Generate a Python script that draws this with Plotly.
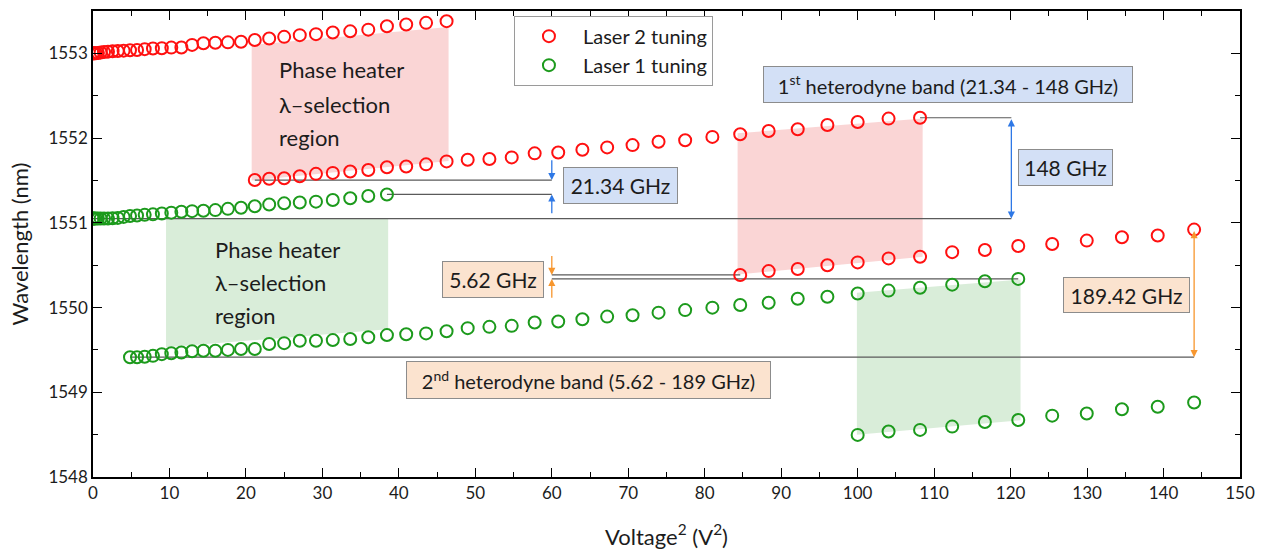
import plotly.graph_objects as go

# ---------------- data (Voltage^2 in V^2, wavelength in nm) ----------------
laser2_a_v2 = [0, 0.04, 0.16, 0.36, 0.64, 1.0, 1.44, 1.96, 2.56, 3.24, 4.0, 4.84, 5.76, 6.76, 7.84,
               9.0, 10.24, 11.56, 12.96, 14.44, 16.0, 17.64, 19.36, 21.16, 23.04, 25.0, 27.04,
               29.16, 31.36, 33.64, 36.0, 38.44, 40.96, 43.56, 46.24]
laser2_a_wl = [1553.00, 1553.00, 1553.00, 1553.00, 1553.005, 1553.01, 1553.015, 1553.02, 1553.025,
               1553.028, 1553.032, 1553.036, 1553.04, 1553.05, 1553.057, 1553.06, 1553.068, 1553.07,
               1553.10, 1553.12, 1553.125, 1553.13, 1553.137, 1553.157, 1553.176, 1553.195, 1553.215,
               1553.227, 1553.246, 1553.26, 1553.28, 1553.32, 1553.34, 1553.36, 1553.38]

laser2_b_v2 = [21.16, 23.04, 25.0, 27.04, 29.16, 31.36, 33.64, 36.0, 38.44, 40.96, 43.56, 46.24,
               49.0, 51.84, 54.76, 57.76, 60.84, 64.0, 67.24, 70.56, 73.96, 77.44, 81.0, 84.64,
               88.36, 92.16, 96.04, 100.0, 104.04, 108.16]
laser2_b_wl = [1551.505, 1551.52, 1551.526, 1551.55, 1551.578, 1551.589, 1551.605, 1551.624, 1551.655,
               1551.665, 1551.69, 1551.725, 1551.745, 1551.753, 1551.772, 1551.82, 1551.83, 1551.862,
               1551.89, 1551.917, 1551.956, 1551.975, 1552.014, 1552.045, 1552.084, 1552.104,
               1552.154, 1552.19, 1552.23, 1552.24]

laser2_c_v2 = [84.64, 88.36, 92.16, 96.04, 100.0, 104.04, 108.16, 112.36, 116.64, 121.0, 125.44,
               129.96, 134.56, 139.24, 144.0]
laser2_c_wl = [1550.385, 1550.43, 1550.455, 1550.50, 1550.533, 1550.58, 1550.60, 1550.654, 1550.68,
               1550.727, 1550.75, 1550.79, 1550.83, 1550.85, 1550.92]

laser1_a_v2 = [0, 0.04, 0.16, 0.36, 0.64, 1.0, 1.44, 1.96, 2.56, 3.24, 4.0, 4.84, 5.76, 6.76, 7.84,
               9.0, 10.24, 11.56, 12.96, 14.44, 16.0, 17.64, 19.36, 21.16, 23.04, 25.0, 27.04,
               29.16, 31.36, 33.64, 36.0, 38.44]
laser1_a_wl = [1551.05, 1551.05, 1551.05, 1551.05, 1551.05, 1551.05, 1551.05, 1551.05, 1551.054,
               1551.058, 1551.07, 1551.08, 1551.086, 1551.094, 1551.10, 1551.11, 1551.12, 1551.13,
               1551.138, 1551.142, 1551.15, 1551.165, 1551.177, 1551.196, 1551.216, 1551.23,
               1551.24, 1551.25, 1551.27, 1551.29, 1551.317, 1551.335]

laser1_b_v2 = [4.84, 5.76, 6.76, 7.84, 9.0, 10.24, 11.56, 12.96, 14.44, 16.0, 17.64, 19.36, 21.16,
               23.04, 25.0, 27.04, 29.16, 31.36, 33.64, 36.0, 38.44, 40.96, 43.56, 46.24, 49.0,
               51.84, 54.76, 57.76, 60.84, 64.0, 67.24, 70.56, 73.96, 77.44, 81.0, 84.64, 88.36,
               92.16, 96.04, 100.0, 104.04, 108.16, 112.36, 116.64, 121.0]
laser1_b_wl = [1549.414, 1549.414, 1549.42, 1549.43, 1549.45, 1549.46, 1549.47, 1549.484, 1549.49,
               1549.49, 1549.50, 1549.51, 1549.51, 1549.57, 1549.58, 1549.608, 1549.608, 1549.616,
               1549.628, 1549.65, 1549.675, 1549.685, 1549.695, 1549.72, 1549.757, 1549.772,
               1549.784, 1549.823, 1549.835, 1549.862, 1549.893, 1549.909, 1549.94, 1549.97,
               1549.999, 1550.03, 1550.057, 1550.104, 1550.127, 1550.166, 1550.20, 1550.233,
               1550.27, 1550.31, 1550.338]

laser1_c_v2 = [100.0, 104.04, 108.16, 112.36, 116.64, 121.0, 125.44, 129.96, 134.56, 139.24, 144.0]
laser1_c_wl = [1548.497, 1548.537, 1548.556, 1548.595, 1548.65, 1548.673, 1548.724, 1548.75,
               1548.80, 1548.83, 1548.88]

series_names = ["Laser 2 tuning", "Laser 1 tuning"]
x_ticks = [0, 10, 20, 30, 40, 50, 60, 70, 80, 90, 100, 110, 120, 130, 140, 150]
y_ticks = [1548, 1549, 1550, 1551, 1552, 1553]

# ---------------- styles ----------------
FONT = "Lato"
RED = "#ff1010"
GREEN = "#1c9a1c"
PINK_FILL = "rgba(247,190,190,0.65)"
GREEN_FILL = "rgba(196,228,196,0.65)"
BLUE_BOX = "#d3e0f6"
ORANGE_BOX = "#fbe3cf"
BOX_BORDER = "#8c8c8c"
GREY_LINE = "#5a5a5a"
BLUE_ARR = "#2e78e6"
ORANGE_ARR = "#f7962e"
TXT = "#1c1c1c"

fig = go.Figure()

marker_kw = dict(symbol="circle-open", size=12)
for i, (xs, ys) in enumerate([(laser2_a_v2, laser2_a_wl), (laser2_b_v2, laser2_b_wl),
                              (laser2_c_v2, laser2_c_wl)]):
    fig.add_trace(go.Scatter(x=xs, y=ys, mode="markers", name=series_names[0],
                             legendgroup="l2", showlegend=(i == 0),
                             marker=dict(color=RED, line=dict(width=2, color=RED), **marker_kw)))
for i, (xs, ys) in enumerate([(laser1_a_v2, laser1_a_wl), (laser1_b_v2, laser1_b_wl),
                              (laser1_c_v2, laser1_c_wl)]):
    fig.add_trace(go.Scatter(x=xs, y=ys, mode="markers", name=series_names[1],
                             legendgroup="l1", showlegend=(i == 0),
                             marker=dict(color=GREEN, line=dict(width=2, color=GREEN), **marker_kw)))

# ---------------- shaded selection regions (data coordinates) ----------------
regions = [
    # x0, x1, top-left, top-right, bottom-right, bottom-left, colour
    (20.75, 46.5, 1553.098, 1553.31, 1551.73, 1551.50, PINK_FILL),
    (9.55, 38.6, 1551.05, 1551.05, 1549.745, 1549.53, GREEN_FILL),
    (84.3, 108.5, 1552.057, 1552.23, 1550.60, 1550.39, PINK_FILL),
    (99.9, 121.3, 1550.175, 1550.33, 1548.67, 1548.50, GREEN_FILL),
]
shapes = []
for x0, x1, tl, tr, br, bl, col in regions:
    shapes.append(dict(type="path", xref="x", yref="y", layer="below", line=dict(width=0),
                       fillcolor=col,
                       path=f"M {x0},{tl} L {x1},{tr} L {x1},{br} L {x0},{bl} Z"))

# ---------------- guide lines ----------------
MARK_X = 60
ARR148_X = 120.1
hlines = [
    (laser2_b_v2[0], MARK_X, laser2_b_wl[0]),
    (laser1_a_v2[-1], MARK_X, laser1_a_wl[-1]),
    (0, ARR148_X, laser1_a_wl[0]),
    (laser2_b_v2[-1], ARR148_X, laser2_b_wl[-1]),
    (MARK_X, laser2_c_v2[0], laser2_c_wl[0]),
    (MARK_X, laser1_b_v2[-1], laser1_b_wl[-1]),
    (laser1_b_v2[0], laser2_c_v2[-1], laser1_b_wl[0]),
]
for xa, xb, yy in hlines:
    shapes.append(dict(type="line", xref="x", yref="y", layer="below", x0=xa, x1=xb, y0=yy, y1=yy,
                       line=dict(color=GREY_LINE, width=1.2)))

annotations = []


def arrow(x, head, tail, color, both=False):
    d = dict(x=x, y=head, ax=x, ay=tail, xref="x", yref="y", axref="x", ayref="y",
             text="", showarrow=True, arrowhead=2, arrowsize=1.1, arrowwidth=1.3,
             arrowcolor=color)
    if both:
        d["arrowside"] = "end+start"
    annotations.append(d)


arrow(MARK_X, laser2_b_wl[0], laser2_b_wl[0] + 0.25, BLUE_ARR)
arrow(MARK_X, laser1_a_wl[-1], laser1_a_wl[-1] - 0.24, BLUE_ARR)
arrow(ARR148_X, laser1_a_wl[0], laser2_b_wl[-1], BLUE_ARR, both=True)
arrow(MARK_X, laser2_c_wl[0], laser2_c_wl[0] + 0.24, ORANGE_ARR)
arrow(MARK_X, laser1_b_wl[-1], laser1_b_wl[-1] - 0.24, ORANGE_ARR)
arrow(laser2_c_v2[-1], laser1_b_wl[0], laser2_c_wl[-1], ORANGE_ARR, both=True)


def box(x, y, text, fill, w, h, size=21):
    annotations.append(dict(x=x, y=y, xref="x", yref="y", text=text, showarrow=False,
                            bgcolor=fill, bordercolor=BOX_BORDER, borderwidth=1, borderpad=2,
                            width=w, height=h, font=dict(family=FONT, size=size, color=TXT)))


box(111.8, 1552.628, "1<sup>st</sup> heterodyne band (21.34 - 148 GHz)", BLUE_BOX, 364, 31, 20)
box(127.2, 1551.657, "148 GHz", BLUE_BOX, 89, 31)
box(69.0, 1551.435, "21.34 GHz", BLUE_BOX, 109, 31)
box(52.3, 1550.336, "5.62 GHz", ORANGE_BOX, 96, 31)
box(135.15, 1550.143, "189.42 GHz", ORANGE_BOX, 121, 30)
box(64.8, 1549.149, "2<sup>nd</sup> heterodyne band (5.62 - 189 GHz)", ORANGE_BOX, 359, 32, 20)

phase_lines = ["Phase heater", "λ–selection", "region"]
for xx, ys in [(24.0, [1552.806, 1552.396, 1552.006]), (15.7, [1550.681, 1550.291, 1549.901])]:
    for t, yy in zip(phase_lines, ys):
        annotations.append(dict(x=xx, y=yy, xref="x", yref="y", text=t, showarrow=False,
                                xanchor="left", font=dict(family=FONT, size=22, color=TXT)))

axis_common = dict(showgrid=False, zeroline=False, showline=True, linecolor="black", linewidth=1.5,
                   mirror="ticks", ticks="inside", ticklen=9, tickwidth=1.3, tickcolor="black",
                   tickfont=dict(family=FONT, size=17, color=TXT))

fig.update_layout(
    width=1266, height=555,
    margin=dict(l=93, r=26, t=9, b=76),
    paper_bgcolor="white", plot_bgcolor="white",
    font=dict(family=FONT, color=TXT),
    shapes=shapes, annotations=annotations,
    legend=dict(x=0.367, y=0.99, xanchor="left", yanchor="top",
                bordercolor="#9a9a9a", borderwidth=1, bgcolor="white",
                font=dict(family=FONT, size=20, color=TXT), itemwidth=58,
                tracegroupgap=0),
    xaxis=dict(range=[0, 150], tickvals=x_ticks,
               minor=dict(dtick=5, ticks="inside", ticklen=5, tickcolor="black", tickwidth=1.3),
               title=dict(text="Voltage<sup>2</sup> (V<sup>2</sup>)", standoff=27,
                          font=dict(family=FONT, size=22, color=TXT)),
               **axis_common),
    yaxis=dict(range=[1548, 1553.5], tickvals=y_ticks,
               minor=dict(dtick=0.5, ticks="inside", ticklen=5, tickcolor="black", tickwidth=1.3),
               title=dict(text="Wavelength (nm)", standoff=14,
                          font=dict(family=FONT, size=22, color=TXT)),
               **axis_common),
)

fig.write_html("out.html")
